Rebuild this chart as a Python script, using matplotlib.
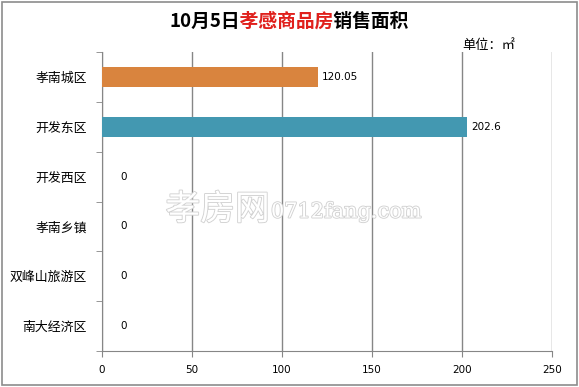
import matplotlib
matplotlib.use("Agg")
import matplotlib.pyplot as plt
import matplotlib.patheffects as pe
from matplotlib.patches import Rectangle

plt.rcParams['font.family'] = ['Noto Sans CJK SC', 'DejaVu Sans']

categories = ["孝南城区", "开发东区", "开发西区", "孝南乡镇", "双峰山旅游区", "南大经济区"]
values = [120.05, 202.6, 0, 0, 0, 0]
labels = ["120.05", "202.6", "0", "0", "0", "0"]
colors = ["#D9843E", "#4398B1", "#4398B1", "#4398B1", "#4398B1", "#4398B1"]
xticks = [0, 50, 100, 150, 200, 250]
title_pre, title_red, title_post = "10月5日", "孝感商品房", "销售面积"

fig = plt.figure(figsize=(5.79, 3.87), dpi=100)
fig.patches.append(Rectangle((0.004, 0.006), 0.992, 0.988, transform=fig.transFigure,
                             fill=False, edgecolor="#8c8c8c", linewidth=1.2))
ax = fig.add_axes([0.1762, 0.093, 0.777, 0.7726])

ypos = list(range(len(categories)))
ax.barh(ypos, values, height=0.4, color=colors, zorder=3)
ax.set_ylim(len(categories) - 0.5, -0.5)
ax.set_xlim(0, 250)
ax.set_xticks(xticks)
ax.set_xticklabels([str(t) for t in xticks], fontsize=7.5, family='DejaVu Sans')
ax.set_yticks(ypos)
ax.set_yticklabels(categories, fontsize=9.3)
ax.set_yticks([i - 0.5 for i in range(len(categories) + 1)], minor=True)
ax.tick_params(axis='y', which='major', length=0, pad=11)
ax.tick_params(axis='y', which='minor', length=4, color="#868686", direction='out')
ax.tick_params(axis='x', length=4, color="#868686", direction='out', pad=6)
ax.grid(axis='x', color="#868686", linewidth=1.0, zorder=0)
for s in ['top', 'right']:
    ax.spines[s].set_visible(False)
for s in ['left', 'bottom']:
    ax.spines[s].set_color("#868686")

for y, v, lab in zip(ypos, values, labels):
    off = 3 if v > 0 else 13
    ax.annotate(lab, (v, y), xytext=(off, 0), textcoords='offset points',
                ha='left', va='center', fontsize=7.5, family='DejaVu Sans', zorder=4)

# watermark
wm = [pe.withStroke(linewidth=1.3, foreground="#d2d2d2")]
fig.text(0.466, 0.457, "孝房网", fontsize=25, color="white", ha='right', va='center',
         path_effects=wm, zorder=5)
fig.text(0.468, 0.452, "0712fang.com", fontsize=15, color="white", ha='left', va='center',
         family='DejaVu Serif', path_effects=wm, zorder=5)

# title: full string in black, then the same string in red clipped to the middle part
full = title_pre + title_red + title_post
tprops = dict(fontsize=13.5, fontweight='bold', ha='center', va='center')
t_black = fig.text(0.5, 0.944, full, color='black', **tprops)
fig.canvas.draw()
r = fig.canvas.get_renderer()
ext = t_black.get_window_extent(r)
probe1 = fig.text(0, 0, title_pre, fontsize=13.5, fontweight='bold')
probe2 = fig.text(0, 0, title_pre + title_red, fontsize=13.5, fontweight='bold')
w1 = probe1.get_window_extent(r).width
w2 = probe2.get_window_extent(r).width
probe1.remove(); probe2.remove()
t_red = fig.text(0.5, 0.944, full, color='#E0201C', zorder=3, **tprops)
clip = Rectangle((ext.x0 + w1 - 1, ext.y0 - 5), w2 - w1, ext.height + 10,
                 transform=None, visible=False)
fig.patches.append(clip)
t_red.set_clip_path(clip)
t_red.set_clip_on(True)
# cover the black under the red section with white to avoid fringe
cover = fig.text(0.5, 0.944, full, color='white', zorder=2, **tprops)
cover.set_path_effects([pe.withStroke(linewidth=1.5, foreground='white')])
clip2 = Rectangle((ext.x0 + w1 - 1, ext.y0 - 5), w2 - w1, ext.height + 10,
                  transform=None, visible=False)
fig.patches.append(clip2)
cover.set_clip_path(clip2)
t_black.set_zorder(1)

fig.text(0.798, 0.882, "单位：㎡", fontsize=9.5, ha='left', va='center')

fig.savefig("out.png", dpi=100)
